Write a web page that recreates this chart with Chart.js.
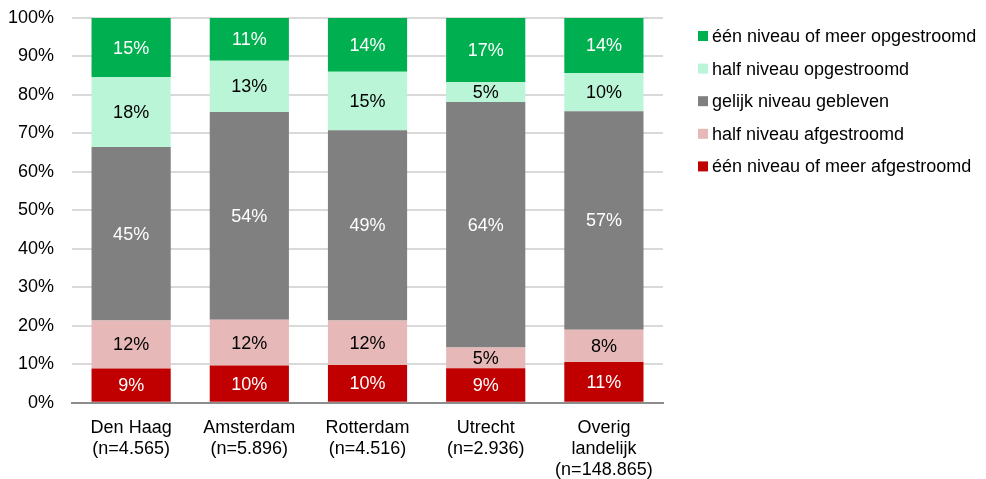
<!DOCTYPE html>
<html>
<head>
<meta charset="utf-8">
<script src="https://cdn.jsdelivr.net/npm/chart.js@4"></script>
<style>
  html, body { margin: 0; padding: 0; background: #fff; }
  #wrap { width: 986px; height: 479px; }
</style>
</head>
<body>
<div id="wrap"><canvas id="mycanvas"></canvas></div>
<script>
var categories = [
  ["Den Haag", "(n=4.565)"],
  ["Amsterdam", "(n=5.896)"],
  ["Rotterdam", "(n=4.516)"],
  ["Utrecht", "(n=2.936)"],
  ["Overig", "landelijk", "(n=148.865)"]
];
var seriesNames = [
  "één niveau of meer afgestroomd",
  "half niveau afgestroomd",
  "gelijk niveau gebleven",
  "half niveau opgestroomd",
  "één niveau of meer opgestroomd"
];
var eenAf   = [8.95, 9.7, 9.8, 9.0, 10.6];
var halfAf  = [12.45, 11.9, 11.6, 5.4, 8.4];
var gelijk  = [45.1, 54.0, 49.4, 63.8, 56.8];
var halfOp  = [18.1, 13.3, 15.2, 5.1, 9.9];
var eenOp   = [15.4, 11.1, 14.0, 16.7, 14.3];
var yTicks = [0, 10, 20, 30, 40, 50, 60, 70, 80, 90, 100];

var colors = ['#C00000', '#E6B8B7', '#808080', '#BBF5D8', '#00B050'];
var labelColors = ['#ffffff', '#000000', '#ffffff', '#000000', '#ffffff'];
var series = [eenAf, halfAf, gelijk, halfOp, eenOp];
var FONT = '"Liberation Sans", Arial, sans-serif';

Chart.defaults.font.family = FONT;
Chart.defaults.font.size = 18;
Chart.defaults.color = '#000';

var datasets = [];
for (var i = 0; i < series.length; i++) {
  datasets.push({
    label: seriesNames[i],
    data: series[i],
    backgroundColor: colors[i],
    borderWidth: 0,
    categoryPercentage: 1,
    barPercentage: 0.67
  });
}

// value labels in the middle of each segment
var segLabels = {
  id: 'segLabels',
  afterDatasetsDraw: function(chart) {
    var ctx = chart.ctx;
    ctx.save();
    ctx.font = '18px ' + FONT;
    ctx.textAlign = 'center';
    ctx.textBaseline = 'middle';
    chart.data.datasets.forEach(function(ds, di) {
      var meta = chart.getDatasetMeta(di);
      meta.data.forEach(function(bar, j) {
        ctx.fillStyle = labelColors[di];
        ctx.fillText(Math.round(ds.data[j]) + '%', bar.x, (bar.y + bar.base) / 2 + 1);
      });
    });
    ctx.restore();
  }
};

// legend on the right, top to bottom in reverse dataset order
var sideLegend = {
  id: 'sideLegend',
  afterDraw: function(chart) {
    var ctx = chart.ctx;
    var x = chart.chartArea.right + 35;
    var y = 36;
    ctx.save();
    ctx.font = '18px ' + FONT;
    ctx.textAlign = 'left';
    ctx.textBaseline = 'middle';
    for (var k = chart.data.datasets.length - 1; k >= 0; k--) {
      var ds = chart.data.datasets[k];
      ctx.fillStyle = ds.backgroundColor;
      ctx.fillRect(x, y - 5, 10, 10);
      ctx.fillStyle = '#000';
      ctx.fillText(ds.label, x + 14, y + 1);
      y += 32.6;
    }
    ctx.restore();
  }
};

var ctx = document.getElementById('mycanvas');
new Chart(ctx, {
  type: 'bar',
  data: { labels: categories, datasets: datasets },
  plugins: [segLabels, sideLegend],
  options: {
    responsive: true,
    maintainAspectRatio: false,
    animation: false,
    layout: { padding: { top: 18, left: -10, right: 323, bottom: -16 } },
    plugins: {
      tooltip: { enabled: false },
      legend: { display: false }
    },
    scales: {
      x: {
        stacked: true,
        grid: { display: false, drawTicks: false },
        border: { color: '#8c8c8c', width: 2 },
        ticks: { padding: 14.5, font: { size: 18, lineHeight: 1.17 }, maxRotation: 0 }
      },
      y: {
        stacked: true,
        min: 0,
        max: 100,
        afterBuildTicks: function(axis) {
          axis.ticks = yTicks.map(function(v) { return { value: v }; });
        },
        afterFit: function(axis) {
          axis.paddingTop = 0;
          axis.paddingBottom = 0;
        },
        grid: { color: '#d9d9d9', lineWidth: 2, drawTicks: false },
        border: { display: false },
        ticks: {
          padding: 18,
          callback: function(v) { return v + '%'; }
        }
      }
    }
  }
});
</script>
</body>
</html>
